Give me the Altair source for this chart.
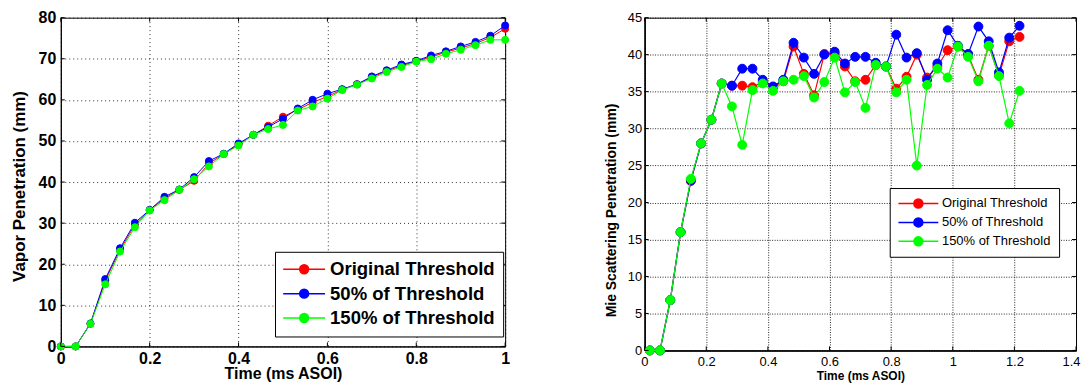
import altair as alt
import pandas as pd

series_names = ["Original Threshold", "50% of Threshold", "150% of Threshold"]
series_colors = ["#ff0000", "#0000ff", "#00ff00"]

# Left panel: vapor penetration
vapor_time = [0.0, 0.0333, 0.0667, 0.1, 0.1333, 0.1667, 0.2, 0.2333, 0.2667, 0.3,
              0.3333, 0.3667, 0.4, 0.4333, 0.4667, 0.5, 0.5333, 0.5667, 0.6, 0.6333,
              0.6667, 0.7, 0.7333, 0.7667, 0.8, 0.8333, 0.8667, 0.9, 0.9333, 0.9667, 1.0]
vapor_original = [0.0, 0.0, 5.5, 16.0, 23.5, 29.6, 33.2, 36.0, 38.1, 40.3,
                  44.5, 46.8, 49.1, 51.5, 53.7, 55.9, 57.6, 59.4, 60.8, 62.5,
                  63.8, 65.5, 67.0, 68.3, 69.4, 70.4, 71.6, 72.6, 73.7, 75.2, 77.3]
vapor_50 = [0.0, 0.0, 5.6, 16.4, 23.9, 30.1, 33.2, 36.4, 38.2, 41.2,
            45.1, 46.9, 49.4, 51.5, 53.4, 55.4, 57.9, 60.0, 61.5, 62.6,
            63.8, 65.7, 67.2, 68.6, 69.5, 70.8, 71.8, 73.0, 74.1, 75.6, 78.1]
vapor_150 = [0.0, 0.0, 5.5, 15.1, 23.1, 29.0, 33.1, 35.6, 38.1, 40.7,
             43.8, 46.8, 48.9, 51.5, 52.9, 53.9, 57.4, 58.4, 60.3, 62.4,
             63.7, 65.2, 66.8, 68.0, 69.3, 69.9, 71.2, 72.2, 73.3, 74.6, 74.6]
vapor_xticks = [0, 0.2, 0.4, 0.6, 0.8, 1]
vapor_yticks = [0, 10, 20, 30, 40, 50, 60, 70, 80]

# Right panel: Mie scattering penetration
mie_time = [0.0167, 0.05, 0.0833, 0.1167, 0.15, 0.1833, 0.2167, 0.25, 0.2833, 0.3167,
            0.35, 0.3833, 0.4167, 0.45, 0.4833, 0.5167, 0.55, 0.5833, 0.6167, 0.65,
            0.6833, 0.7167, 0.75, 0.7833, 0.8167, 0.85, 0.8833, 0.9167, 0.95, 0.9833,
            1.0167, 1.05, 1.0833, 1.1167, 1.15, 1.1833, 1.2167]
mie_original = [0.0, 0.0, 6.8, 16.0, 22.9, 28.0, 31.2, 36.1, 35.8, 35.8,
                35.6, 36.3, 35.6, 36.4, 41.1, 37.4, 34.5, 40.1, 40.1, 38.4,
                36.4, 36.6, 38.6, 38.4, 35.4, 37.0, 40.0, 36.9, 38.4, 40.6,
                41.1, 39.9, 36.6, 41.2, 37.2, 41.8, 42.4]
mie_50 = [0.0, 0.0, 6.8, 16.0, 23.0, 28.0, 31.2, 36.1, 35.8, 38.1,
          38.1, 36.6, 35.7, 36.6, 41.6, 39.6, 37.4, 40.0, 40.4, 38.8,
          39.7, 39.7, 38.9, 38.4, 42.7, 39.6, 40.2, 36.6, 38.8, 43.3,
          41.2, 40.1, 43.8, 41.8, 37.6, 42.3, 43.9]
mie_150 = [0.0, 0.0, 6.8, 16.0, 23.2, 28.0, 31.2, 36.1, 33.0, 27.8,
           35.2, 36.1, 35.1, 36.4, 36.6, 37.1, 34.2, 36.3, 39.6, 34.9,
           36.3, 32.8, 38.6, 38.4, 34.9, 36.6, 25.0, 35.9, 38.1, 36.9,
           41.1, 39.7, 36.4, 41.2, 37.1, 30.7, 35.1]
mie_xticks = [0, 0.2, 0.4, 0.6, 0.8, 1, 1.2, 1.4]
mie_yticks = [0, 5, 10, 15, 20, 25, 30, 35, 40, 45]


def long_df(time, cols):
    rows = []
    for name, vals in zip(series_names, cols):
        for t, v in zip(time, vals):
            rows.append({"time": t, "value": v, "series": name})
    return pd.DataFrame(rows)


vapor_df = long_df(vapor_time, [vapor_original, vapor_50, vapor_150])
mie_df = long_df(mie_time, [mie_original, mie_50, mie_150])

FONT = "Liberation Sans"


def legend_path(half_len, radius, scale):
    L = half_len / scale
    r = radius / scale
    return (f"M{-L:.3f},0L{L:.3f},0"
            f"M{-r:.3f},0A{r:.3f},{r:.3f},0,1,1,{r:.3f},0"
            f"A{r:.3f},{r:.3f},0,1,1,{-r:.3f},0Z")


def panel(df, x_axis, y_axis, x_dom, y_dom, xticks, yticks, w, h, legend, pt_size, line_w, tick_len):
    cscale = alt.Scale(domain=series_names, range=series_colors)
    xs = alt.Scale(domain=x_dom, nice=False, zero=False)
    ys = alt.Scale(domain=y_dom, nice=False)
    X = alt.X("time:Q", scale=xs, axis=x_axis)
    Y = alt.Y("value:Q", scale=ys, axis=y_axis)
    layers = []
    for name in series_names:
        base = alt.Chart(df).transform_filter(alt.datum.series == name)
        line = base.mark_line(strokeWidth=line_w).encode(
            x=X, y=Y,
            color=alt.Color("series:N", scale=cscale, legend=legend),
        )
        pts = base.mark_point(filled=True, size=pt_size, opacity=1, strokeWidth=1).encode(
            x=X, y=Y,
            color=alt.Color("series:N", scale=cscale, legend=legend),
            stroke=alt.Stroke("series:N", scale=cscale, legend=legend),
        )
        layers += [line, pts]
    # inward tick marks on all four sides (MATLAB style)
    xdf = pd.DataFrame({"time": xticks})
    ydf = pd.DataFrame({"value": yticks})
    tx = alt.X("time:Q", scale=xs, axis=x_axis)
    ty = alt.Y("value:Q", scale=ys, axis=y_axis)
    tick = dict(color="black", strokeWidth=1)
    layers += [
        alt.Chart(xdf).mark_rule(**tick).encode(x=tx, y=alt.value(h), y2=alt.value(h - tick_len)),
        alt.Chart(xdf).mark_rule(**tick).encode(x=tx, y=alt.value(0), y2=alt.value(tick_len)),
        alt.Chart(ydf).mark_rule(**tick).encode(y=ty, x=alt.value(0), x2=alt.value(tick_len)),
        alt.Chart(ydf).mark_rule(**tick).encode(y=ty, x=alt.value(w), x2=alt.value(w - tick_len)),
    ]
    return alt.layer(*layers).properties(width=w, height=h)


# ---------- left panel ----------
lsize = 289
ls = lsize ** 0.5 / 2
left_legend = alt.Legend(
    title=None, orient="none", legendX=215, legendY=235,
    symbolType=legend_path(21, 4.5, ls), symbolSize=lsize, symbolStrokeWidth=1.5,
    symbolOpacity=1, symbolOffset=11.75, labelOffset=16.5,
    labelFont=FONT, labelFontSize=18.6, labelFontWeight="bold", labelColor="black",
    labelLimit=400, strokeColor="black", fillColor="white", padding=8,
    rowPadding=4.5, cornerRadius=0,
)
left_x_axis = alt.Axis(
    title="Time (ms ASOI)", values=vapor_xticks, format="~g",
    labelFont=FONT, labelFontSize=16, labelFontWeight="bold", labelColor="black",
    labelPadding=4, labelFlush=False, labelOverlap=False, ticks=False, tickSize=0,
    domain=True, domainColor="black", domainWidth=1,
    grid=True, gridColor="black", gridDash=[1, 3], gridOpacity=0.8, gridWidth=1,
    titleFont=FONT, titleFontSize=16, titleFontWeight="bold", titleColor="black",
    titleBaseline="middle", titleY=27,
)
left_y_axis = alt.Axis(
    title="Vapor Penetration (mm)", values=vapor_yticks,
    labelFont=FONT, labelFontSize=16, labelFontWeight="bold", labelColor="black",
    labelPadding=5, labelFlush=False, labelOverlap=False, ticks=False, tickSize=0,
    domain=True, domainColor="black", domainWidth=1,
    grid=True, gridColor="black", gridDash=[1, 3], gridOpacity=0.8, gridWidth=1,
    titleFont=FONT, titleFontSize=17, titleFontWeight="bold", titleColor="black",
    titleBaseline="middle", titleX=-41.5, titleY=169,
)
left = panel(vapor_df, left_x_axis, left_y_axis, [0, 1], [0, 80], vapor_xticks, vapor_yticks,
             446, 330, left_legend, 50, 1, 4)

# ---------- right panel ----------
rsize = 169
rs = rsize ** 0.5 / 2
right_legend = alt.Legend(
    title=None, orient="none", legendX=246, legendY=171,
    symbolType=legend_path(20, 4.5, rs), symbolSize=rsize, symbolStrokeWidth=1.5,
    symbolOpacity=1, symbolOffset=13.25, labelOffset=16.2,
    labelFont=FONT, labelFontSize=13, labelFontWeight="normal", labelColor="black",
    labelLimit=400, strokeColor="black", fillColor="white", padding=8,
    rowPadding=4, cornerRadius=0,
)
right_x_axis = alt.Axis(
    title="Time  (ms ASOI)", values=mie_xticks, format="~g",
    labelFont=FONT, labelFontSize=13, labelColor="black",
    labelPadding=5, labelFlush=True, labelFlushOffset=4, labelOverlap=False,
    ticks=False, tickSize=0,
    domain=True, domainColor="black", domainWidth=1.5,
    grid=True, gridColor="black", gridDash=[1, 1.5], gridOpacity=0.85, gridWidth=1,
    titleFont=FONT, titleFontSize=12, titleFontWeight="bold", titleColor="black",
    titleBaseline="middle", titleY=25.5,
)
right_y_axis = alt.Axis(
    title="Mie Scattering Penetration (mm)", values=mie_yticks,
    labelFont=FONT, labelFontSize=13, labelColor="black",
    labelPadding=3, labelFlush=False, labelOverlap=False, ticks=False, tickSize=0,
    domain=True, domainColor="black", domainWidth=1.5,
    grid=True, gridColor="black", gridDash=[1, 1.5], gridOpacity=0.85, gridWidth=1,
    titleFont=FONT, titleFontSize=14, titleFontWeight="bold", titleColor="black",
    titleBaseline="middle", titleX=-33, titleY=193,
)
right = panel(mie_df, right_x_axis, right_y_axis, [0, 1.4], [0, 45], mie_xticks, mie_yticks,
              433, 334, right_legend, 80, 1.2, 4)

chart = alt.hconcat(left, right, spacing=92).resolve_scale(
    x="independent", y="independent", color="independent", stroke="independent"
).resolve_legend(
    color="independent", stroke="independent"
).configure(
    padding={"left": 2, "top": 0, "right": 0, "bottom": 0},
    background="white",
).configure_view(
    stroke="black", strokeWidth=1,
)

chart.save("out.html", embed_options={"renderer": "svg", "actions": False})
